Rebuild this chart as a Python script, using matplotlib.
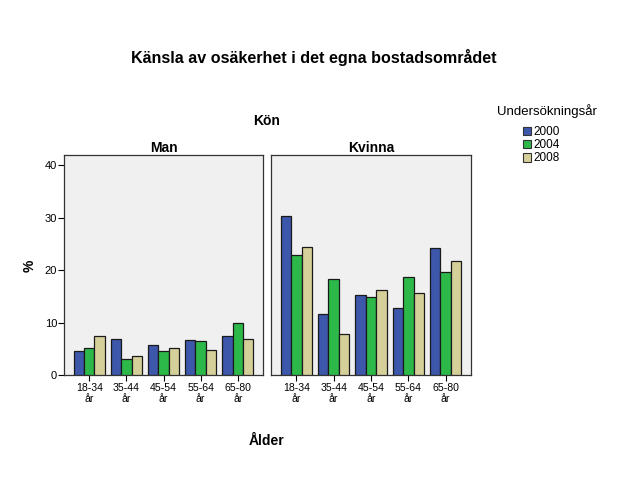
import matplotlib
matplotlib.use("Agg")
import matplotlib.pyplot as plt
import numpy as np
from matplotlib.patches import Patch

plt.rcParams['font.family'] = ['Liberation Sans', 'DejaVu Sans']

categories = ["18-34 år", "35-44 år", "45-54 år", "55-64 år", "65-80 år"]
years = ["2000", "2004", "2008"]
panels = ["Man", "Kvinna"]
man = {
    "2000": [4.6, 6.9, 5.8, 6.7, 7.4],
    "2004": [5.2, 3.1, 4.6, 6.5, 10.0],
    "2008": [7.5, 3.7, 5.2, 4.8, 6.9],
}
kvinna = {
    "2000": [30.3, 11.6, 15.2, 12.8, 24.2],
    "2004": [22.9, 18.4, 14.8, 18.8, 19.6],
    "2008": [24.4, 7.9, 16.2, 15.6, 21.7],
}
colors = ["#3d57ab", "#2db94a", "#d5d09a"]
yticks = [0, 10, 20, 30, 40]

fig = plt.figure(figsize=(6.29, 5.04), dpi=100)
fig.patch.set_facecolor("white")

W, H = 629, 504
def ax_rect(l, t, r, b):
    return [l / W, 1 - b / H, (r - l) / W, (b - t) / H]

axes = [fig.add_axes(ax_rect(64, 155, 263, 375)), fig.add_axes(ax_rect(271, 155, 471, 375))]
x = np.arange(len(categories))
bw = 0.28
first = [c.split(" ")[0] for c in categories]
second = [c.split(" ")[1] for c in categories]
for ax, name, data in zip(axes, panels, [man, kvinna]):
    ax.set_facecolor("#f0f0f0")
    for i, y in enumerate(years):
        ax.bar(x + (i - 1) * bw, data[y], width=bw, color=colors[i],
               edgecolor="#1a1a1a", linewidth=0.9, zorder=3)
    ax.set_xlim(-0.68, 4.68)
    ax.set_ylim(0, 42)
    ax.set_xticks(x)
    ax.set_xticklabels(first, fontsize=7.6)
    ax.tick_params(axis="x", length=4, width=0.8, pad=1.5)
    for xi, s in zip(x, second):
        ax.annotate(s, xy=(xi, 0), xycoords=("data", "axes fraction"),
                    xytext=(0, -19.5), textcoords="offset points",
                    ha="center", va="baseline", fontsize=7.6, annotation_clip=False)
    ax.set_yticks(yticks)
    ax.set_title(name, fontsize=10, fontweight="bold", pad=2)
    for s in ax.spines.values():
        s.set_color("#333333")
        s.set_linewidth(0.9)

axes[0].tick_params(axis="y", labelsize=8, length=4, width=0.8, pad=1)
axes[1].tick_params(axis="y", left=False, labelleft=False)

fig.text(314 / W, 1 - 58 / H, "Känsla av osäkerhet i det egna bostadsområdet",
         ha="center", va="center", fontsize=11.6, fontweight="bold")
fig.text(267 / W, 1 - 121 / H, "Kön", ha="center", va="center", fontsize=10, fontweight="bold")
fig.text(267 / W, 1 - 441 / H, "Ålder", ha="center", va="center", fontsize=10, fontweight="bold")
fig.text(30 / W, 1 - 266 / H, "%", ha="center", va="center", fontsize=10,
         fontweight="bold", rotation=90)

fig.text(497 / W, 1 - 111 / H, "Undersökningsår", ha="left", va="center", fontsize=9.5)
handles = [Patch(facecolor=c, edgecolor="#333333", linewidth=0.8, label=y) for c, y in zip(colors, years)]
leg = fig.legend(handles=handles, loc="upper left", bbox_to_anchor=(523 / W, 1 - 126 / H),
                 frameon=False, fontsize=8.5, handlelength=0.7, handleheight=0.75,
                 handletextpad=0.15, labelspacing=0.1, borderpad=0, borderaxespad=0)

fig.savefig("out.png", dpi=100)
